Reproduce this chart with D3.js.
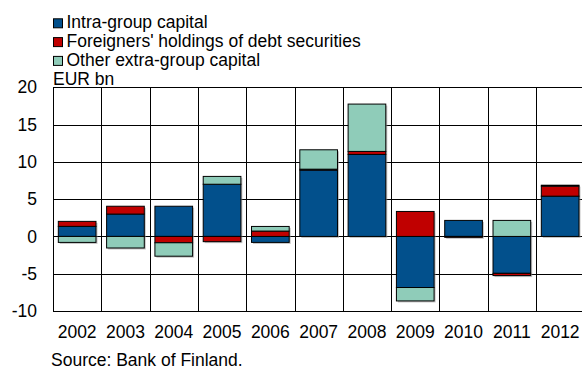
<!DOCTYPE html>
<html><head><meta charset="utf-8">
<script src="https://cdn.jsdelivr.net/npm/d3@7"></script>
<style>body{margin:0;background:#fff}svg{display:block;font-family:"Liberation Sans",Arial,sans-serif}</style>
</head><body><svg id="c" width="582" height="369"></svg>
<script>
const years = ["2002","2003","2004","2005","2006","2007","2008","2009","2010","2011","2012"];
const intraGroup = [1.35, 3.0, 4.05, 7.0, -0.8, 8.9, 11.0, -6.85, 2.15, -4.95, 5.4];
const foreignDebt = [0.67, 1.05, -0.85, -0.7, 0.72, 0.12, 0.4, 3.35, -0.12, -0.3, 1.35];
const otherExtra = [-0.8, -1.55, -1.8, 1.05, 0.62, 2.6, 6.35, -1.8, 0, 2.15, 0.12];
const seriesNames = ["Intra-group capital", "Foreigners' holdings of debt securities", "Other extra-group capital"];
const colors = ["#02508c", "#c00000", "#8fccb9"];
const yTicks = [-10, -5, 0, 5, 10, 15, 20];

const svg = d3.select("#c");
const fs = 17.5;
const plotLeft = 53, plotTop = 87.3, plotBottom = 311, step = 48.3;
const x = d3.scaleBand().domain(years).range([plotLeft, plotLeft + step * years.length]).paddingInner(0.22).paddingOuter(0.11);
const y = d3.scaleLinear().domain([-10, 20]).range([plotBottom, plotTop]);

const rows = years.map((yr, i) => ({year: yr, a: intraGroup[i], b: foreignDebt[i], c: otherExtra[i]}));
const stack = d3.stack().keys(["a","b","c"]).offset(d3.stackOffsetDiverging)(rows);

// grid
const g = svg.append("g");
g.selectAll(".h").data(yTicks).enter().append("line")
  .attr("x1", plotLeft).attr("x2", 582).attr("y1", d => Math.round(y(d)) + 0.5).attr("y2", d => Math.round(y(d)) + 0.5)
  .attr("stroke", "#000").attr("stroke-width", 1);
const bounds = d3.range(years.length + 1).map(i => plotLeft + i * step);
g.selectAll(".v").data(bounds).enter().append("line")
  .attr("x1", d => Math.round(d) + 0.5).attr("x2", d => Math.round(d) + 0.5)
  .attr("y1", y(20)).attr("y2", y(-10)).attr("stroke", "#000").attr("stroke-width", 1);

// shadows
const ext = rows.map((r, i) => {
  const vals = stack.map(s => s[i]);
  return {year: r.year, lo: d3.min(vals, v => Math.min(v[0], v[1])), hi: d3.max(vals, v => Math.max(v[0], v[1]))};
});
svg.append("g").selectAll("rect").data(ext).enter().append("rect")
  .attr("x", d => x(d.year) + 1.5).attr("y", d => y(d.hi) + 1.5)
  .attr("width", x.bandwidth()).attr("height", d => y(d.lo) - y(d.hi))
  .attr("fill", "#9a9a9a").attr("opacity", 0.6);

// bars
svg.append("g").selectAll("g").data(stack).enter().append("g")
  .attr("fill", (d, i) => colors[i])
  .selectAll("rect").data(d => d.filter(v => v[1] !== v[0])).enter().append("rect")
  .attr("x", d => x(d.data.year)).attr("y", d => y(Math.max(d[0], d[1])))
  .attr("width", x.bandwidth()).attr("height", d => Math.abs(y(d[0]) - y(d[1])))
  .attr("stroke", "#000").attr("stroke-width", 1);

// y labels
svg.append("g").selectAll("text").data(yTicks).enter().append("text")
  .attr("x", 37).attr("y", d => y(d)).attr("dy", "0.35em").attr("text-anchor", "end")
  .attr("font-size", fs).text(d => d);
// x labels
svg.append("g").selectAll("text").data(years).enter().append("text")
  .attr("x", d => x(d) + x.bandwidth() / 2).attr("y", 337.5).attr("text-anchor", "middle")
  .attr("font-size", fs).text(d => d);

svg.append("text").attr("x", 53).attr("y", 85).attr("font-size", fs).text("EUR bn");
svg.append("text").attr("x", 51).attr("y", 365.5).attr("font-size", fs).text("Source: Bank of Finland.");

// legend
const lg = svg.append("g").selectAll("g").data(seriesNames).enter().append("g")
  .attr("transform", (d, i) => `translate(53,${28.3 + i * 18.8})`);
lg.append("rect").attr("x", 0.5).attr("y", -9.5).attr("width", 9).attr("height", 9)
  .attr("fill", (d, i) => colors[i]).attr("stroke", "#000").attr("stroke-width", 1);
lg.append("text").attr("x", 13.5).attr("y", 0).attr("font-size", fs).text(d => d);
</script></body></html>
